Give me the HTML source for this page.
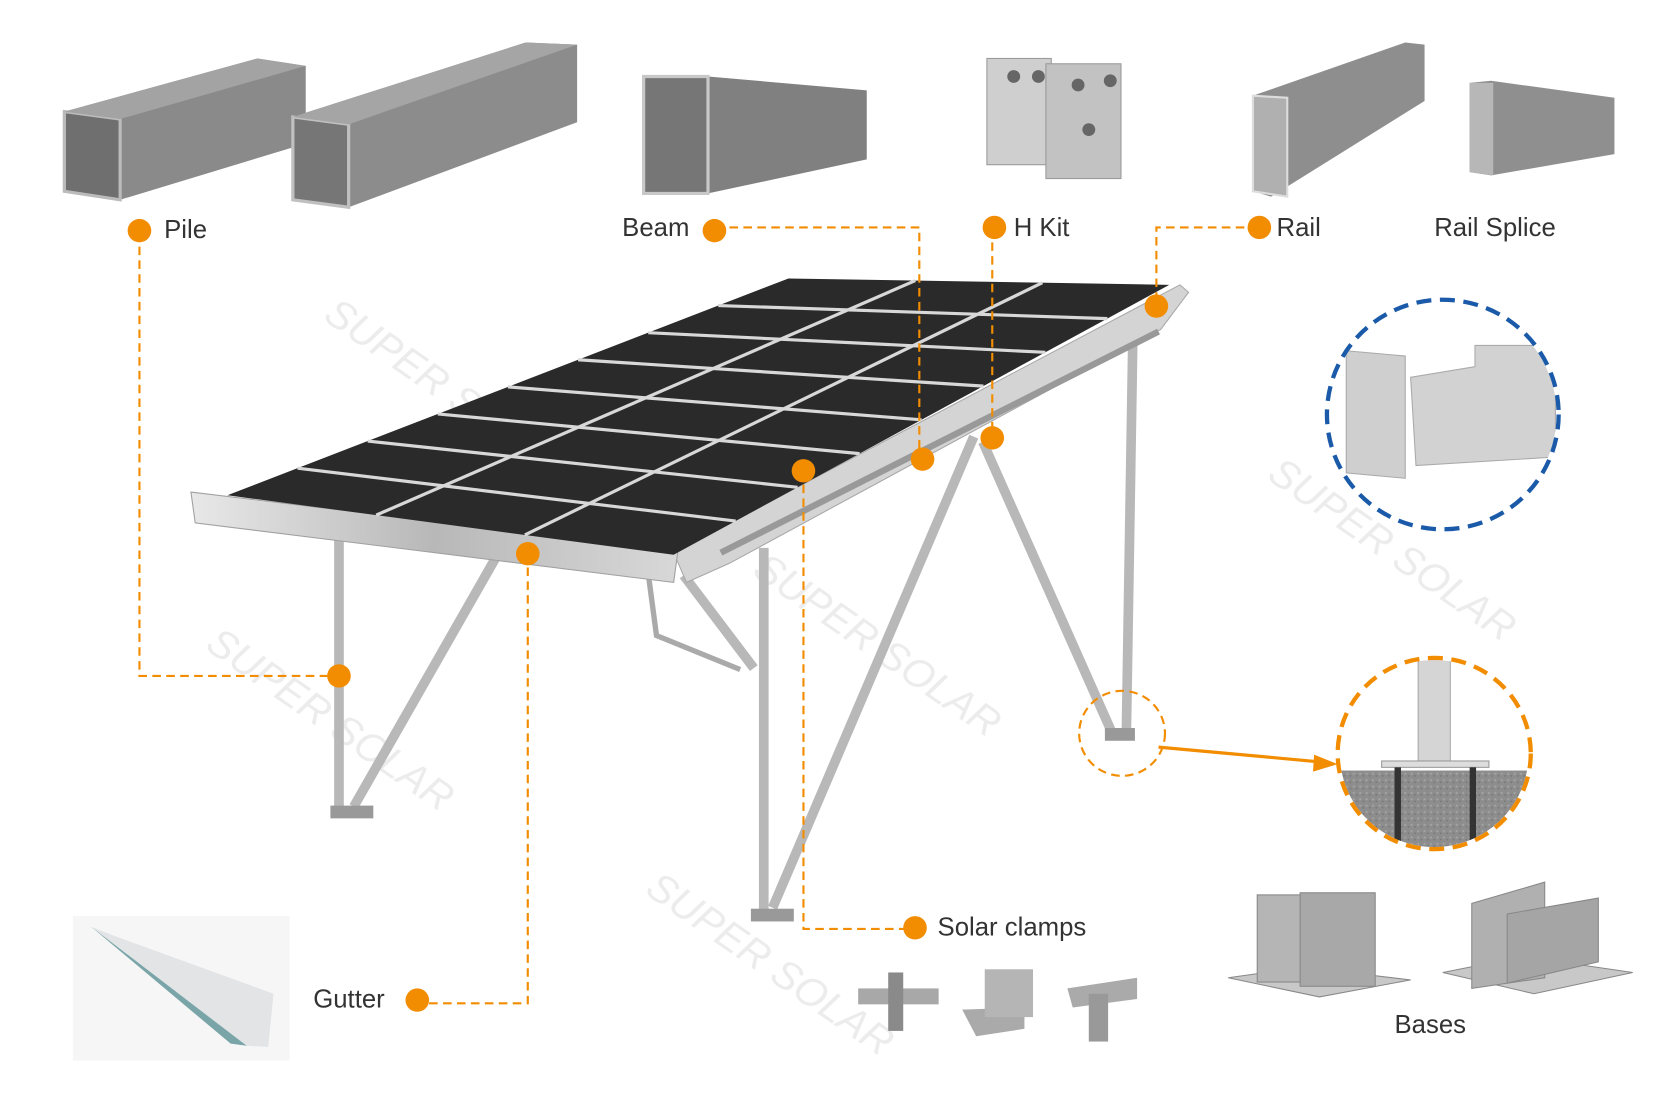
<!DOCTYPE html>
<html><head><meta charset="utf-8"><style>
html,body{margin:0;padding:0;background:#fff;}
svg{display:block;}
text{font-family:"Liberation Sans",sans-serif;}
.lb{fill:#333;}
.wm{fill:#ececec;}
</style></head><body>
<svg width="1667" height="1100" viewBox="0 0 1554 1035" preserveAspectRatio="none" xmlns="http://www.w3.org/2000/svg">
<defs>
<linearGradient id="al" x1="0" y1="0" x2="1" y2="0"><stop offset="0" stop-color="#e8e8e8"/><stop offset="0.5" stop-color="#b8b8b8"/><stop offset="1" stop-color="#d8d8d8"/></linearGradient>
<pattern id="conc" width="6" height="6" patternUnits="userSpaceOnUse"><rect width="6" height="6" fill="#8d8d8d"/><circle cx="2" cy="2" r="1" fill="#a5a5a5"/><circle cx="5" cy="4" r="0.8" fill="#747474"/></pattern>
<clipPath id="c2"><circle cx="1337" cy="709" r="88"/></clipPath>
<clipPath id="c1"><circle cx="1345" cy="390" r="106"/></clipPath>
</defs>
<g font-size="38" font-style="italic" class="wm">
<text class="wm" x="300" y="300" transform="rotate(35 300 300)">SUPER SOLAR</text>
<text class="wm" x="1180" y="450" transform="rotate(35 1180 450)">SUPER SOLAR</text>
<text class="wm" x="190" y="610" transform="rotate(35 190 610)">SUPER SOLAR</text>
<text class="wm" x="600" y="840" transform="rotate(35 600 840)">SUPER SOLAR</text>
<text class="wm" x="700" y="540" transform="rotate(35 700 540)">SUPER SOLAR</text>
</g>
<!-- Pile profiles -->
<polygon points="60,105 240,55 285,62 285,135 112,188 60,180" fill="#8a8a8a"/>
<polygon points="60,105 112,112 112,188 60,180" fill="#6f6f6f" stroke="#bbb" stroke-width="3"/>
<polygon points="60,105 240,55 285,62 112,112" fill="#a3a3a3"/>
<polygon points="273,110 490,40 538,42 538,115 325,195 273,188" fill="#8c8c8c"/>
<polygon points="273,110 325,117 325,195 273,188" fill="#767676" stroke="#c0c0c0" stroke-width="3"/>
<polygon points="273,110 490,40 538,42 325,117" fill="#a5a5a5"/>
<!-- Beam -->
<polygon points="600,72 660,72 808,85 808,150 660,182 600,182" fill="#808080"/>
<polygon points="600,72 660,72 660,182 600,182" fill="#767676" stroke="#c8c8c8" stroke-width="3"/>
<!-- H kit -->
<rect x="920" y="55" width="60" height="100" fill="#cfcfcf" stroke="#999"/>
<rect x="975" y="60" width="70" height="108" fill="#c2c2c2" stroke="#999"/>
<circle cx="945" cy="72" r="6" fill="#666"/><circle cx="968" cy="72" r="6" fill="#666"/><circle cx="1005" cy="80" r="6" fill="#666"/><circle cx="1035" cy="76" r="6" fill="#666"/><circle cx="1015" cy="122" r="6" fill="#666"/>
<!-- Rail -->
<polygon points="1168,90 1310,40 1328,42 1328,95 1185,185 1168,180" fill="#8e8e8e"/>
<polygon points="1168,90 1200,92 1200,185 1168,180" fill="#b0b0b0" stroke="#ddd" stroke-width="2"/>
<!-- Rail splice -->
<polygon points="1370,78 1390,76 1505,92 1505,145 1390,165 1370,162" fill="#8f8f8f"/>
<polygon points="1370,78 1392,78 1392,165 1370,162" fill="#b7b7b7"/>
<!-- Labels -->
<g font-size="24">
<text class="lb" x="153" y="224">Pile</text>
<text class="lb" x="580" y="222">Beam</text>
<text class="lb" x="945" y="222">H Kit</text>
<text class="lb" x="1190" y="222">Rail</text>
<text class="lb" x="1337" y="222">Rail Splice</text>
<text class="lb" x="874" y="880">Solar clamps</text>
<text class="lb" x="292" y="948">Gutter</text>
<text class="lb" x="1300" y="972">Bases</text>
</g>
<!-- Legs -->
<g stroke="#b8b8b8" stroke-width="9" stroke-linecap="square">
<line x1="316" y1="505" x2="316" y2="762"/>
<line x1="462" y1="525" x2="332" y2="755"/>
<line x1="712" y1="520" x2="712" y2="862"/>
<line x1="906" y1="415" x2="722" y2="850"/>
<line x1="640" y1="545" x2="700" y2="625"/>
<line x1="1056" y1="320" x2="1050" y2="690"/>
<line x1="918" y1="420" x2="1036" y2="688"/>
</g>
<polyline points="605,545 612,598 690,630" fill="none" stroke="#aaa" stroke-width="5"/>
<rect x="308" y="758" width="40" height="12" fill="#999"/>
<rect x="700" y="855" width="40" height="12" fill="#999"/>
<rect x="1030" y="685" width="28" height="12" fill="#999"/>
<!-- Rail beam -->
<polygon points="628,520 1100,268 1108,275 1082,310 680,530 640,548" fill="#d4d4d4" stroke="#a8a8a8"/>
<line x1="672" y1="520" x2="1080" y2="312" stroke="#999" stroke-width="6"/>
<!-- Front gutter -->
<polygon points="178,463 632,518 628,548 182,492" fill="url(#al)" stroke="#a0a0a0"/>
<!-- Panels -->
<polygon points="212,466 628,522 1090,268 735,262" fill="#2a2a2a"/>
<g stroke="#d8d8d8" stroke-width="3">
<line x1="350.7" y1="484.7" x2="853.3" y2="264"/>
<line x1="489.3" y1="503.3" x2="971.7" y2="266"/>
<line x1="277.4" y1="440.5" x2="685.8" y2="490.3"/>
<line x1="342.8" y1="415" x2="743.5" y2="458.5"/>
<line x1="408.1" y1="389.5" x2="801.3" y2="426.8"/>
<line x1="473.5" y1="364" x2="859" y2="395"/>
<line x1="538.9" y1="338.5" x2="916.8" y2="363.3"/>
<line x1="604.3" y1="313" x2="974.5" y2="331.5"/>
<line x1="669.6" y1="287.5" x2="1032.3" y2="299.8"/>
</g>
<!-- Dashed connectors -->
<g fill="none" stroke="#f28c00" stroke-width="2" stroke-dasharray="8,5">
<polyline points="130,232 130,636 316,636"/>
<polyline points="680,214 857,214 857,432"/>
<polyline points="925,228 925,412"/>
<polyline points="1160,214 1078,214 1078,288"/>
<polyline points="492,521 492,944 400,944"/>
<polyline points="749,443 749,874 845,874"/>
<circle cx="1046" cy="690" r="40"/>
</g>
<g fill="#f28c00">
<circle cx="130" cy="217" r="11"/><circle cx="666" cy="217" r="11"/><circle cx="927" cy="214" r="11"/><circle cx="1174" cy="214" r="11"/>
<circle cx="316" cy="636" r="11"/><circle cx="860" cy="432" r="11"/><circle cx="925" cy="412" r="11"/><circle cx="1078" cy="288" r="11"/>
<circle cx="492" cy="521" r="11"/><circle cx="749" cy="443" r="11"/><circle cx="853" cy="873" r="11"/><circle cx="389" cy="941" r="11"/>
</g>
<line x1="1080" y1="703" x2="1232" y2="717" stroke="#f28c00" stroke-width="3"/>
<polygon points="1247,719 1225,710 1224,726" fill="#f28c00"/>
<!-- blue circle -->
<g clip-path="url(#c1)">
<polygon points="1255,330 1310,335 1310,450 1255,445" fill="#cfcfcf" stroke="#aaa"/>
<polygon points="1315,355 1375,345 1375,325 1440,325 1450,340 1450,430 1320,438" fill="#d2d2d2" stroke="#aaa"/>
</g>
<circle cx="1345" cy="390" r="108" fill="none" stroke="#1a5aa8" stroke-width="4" stroke-dasharray="14,8"/>
<!-- orange base circle -->
<g clip-path="url(#c2)">
<rect x="1240" y="725" width="200" height="90" fill="url(#conc)"/>
<rect x="1322" y="615" width="30" height="105" fill="#d5d5d5" stroke="#aaa"/>
<rect x="1288" y="716" width="100" height="6" fill="#ddd" stroke="#999"/>
<rect x="1300" y="722" width="6" height="90" fill="#333"/><rect x="1370" y="722" width="6" height="90" fill="#333"/>
</g>
<circle cx="1337" cy="709" r="90" fill="none" stroke="#f28c00" stroke-width="4" stroke-dasharray="14,8"/>
<!-- Bases -->
<polygon points="1145,920 1215,910 1315,922 1230,938" fill="#c8c8c8" stroke="#888"/>
<rect x="1172" y="842" width="60" height="82" fill="#b5b5b5" stroke="#888"/>
<rect x="1212" y="840" width="70" height="88" fill="#a8a8a8" stroke="#888"/>
<polygon points="1345,915 1420,900 1522,915 1430,935" fill="#c8c8c8" stroke="#888"/>
<polygon points="1372,850 1440,830 1440,920 1372,930" fill="#b0b0b0" stroke="#888"/>
<polygon points="1405,860 1490,845 1490,905 1405,925" fill="#a5a5a5" stroke="#888"/>
<!-- Clamps -->
<rect x="800" y="930" width="75" height="15" fill="#a8a8a8"/><rect x="828" y="915" width="14" height="55" fill="#8a8a8a"/>
<polygon points="897,950 955,948 955,968 910,975" fill="#aaa"/><rect x="918" y="912" width="45" height="45" fill="#b5b5b5"/>
<polygon points="995,930 1060,920 1060,940 1000,948" fill="#aaa"/><rect x="1015" y="935" width="18" height="45" fill="#999"/>
<!-- Gutter -->
<rect x="68" y="862" width="202" height="136" fill="#f6f6f6"/>
<polygon points="85,872 105,880 255,935 250,985 230,984" fill="#e2e4e6"/>
<polygon points="85,872 230,984 215,982" fill="#7aa5a8"/>
</svg>
</body></html>
